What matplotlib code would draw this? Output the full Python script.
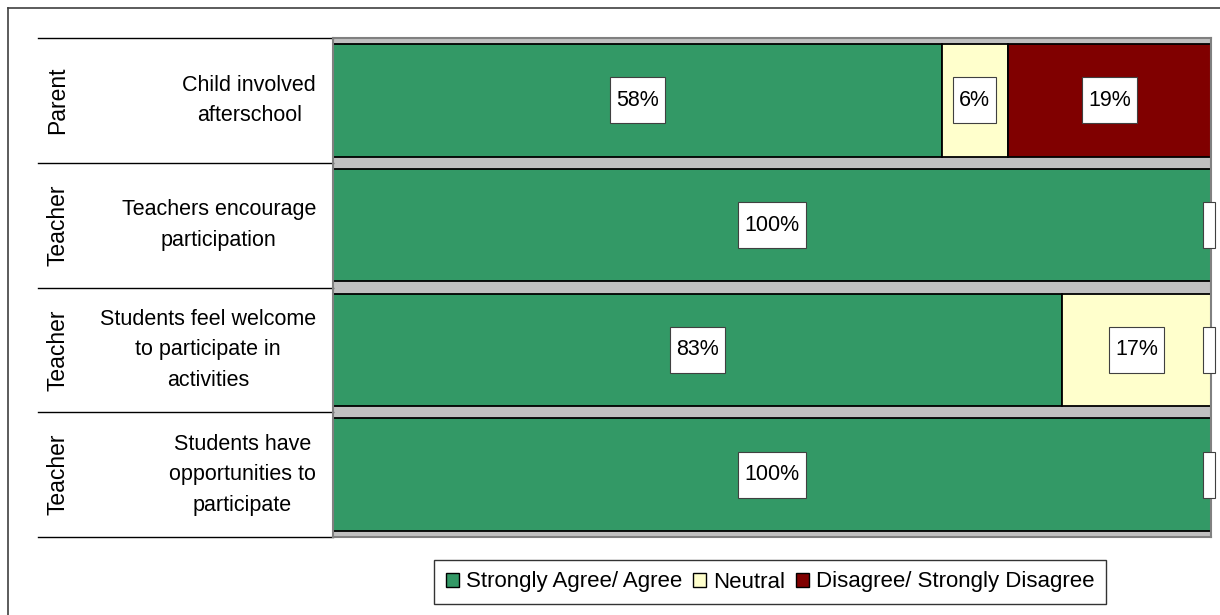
import matplotlib.pyplot as plt
import matplotlib.patches as mpatches
from matplotlib.transforms import IdentityTransform

plt.rcParams['font.family'] = ['Liberation Sans', 'DejaVu Sans']

groups = ["Parent", "Teacher", "Teacher", "Teacher"]
questions = [
    "Child involved\nafterschool",
    "Teachers encourage\nparticipation",
    "Students feel welcome\nto participate in\nactivities",
    "Students have\nopportunities to\nparticipate",
]
series_names = ["Strongly Agree/ Agree", "Neutral", "Disagree/ Strongly Disagree"]
agree = [57.6, 100, 83, 100]
neutral = [6.3, 0, 17, 0]
disagree = [19.2, 0, 0, 0]
colors = ["#339966", "#FFFFCC", "#800000"]

fig = plt.figure(figsize=(12.2, 6.15), dpi=100)
W, H = 1220, 615
ax = fig.add_axes([333 / W, 1 - 537 / H, (1211 - 333) / W, (537 - 38) / H])
ax.set_facecolor("#C0C0C0")

rows = list(range(len(questions)))
series = [agree, neutral, disagree]
totals = [a + n + d for a, n, d in zip(agree, neutral, disagree)]

labels = []
left = [0.0] * len(rows)
for vals, col in zip(series, colors):
    frac = [v / t for v, t in zip(vals, totals)]
    ax.barh(rows, frac, left=left, height=0.9, color=col,
            edgecolor="black", linewidth=1.3, zorder=2)
    for r, v, f, l in zip(rows, vals, frac, left):
        if v == 0 and col == colors[1] and disagree[r] == 0:
            continue  # one empty box per bar end is enough
        txt = f"{v:.0f}%" if v > 0 else ""
        t = ax.text(l + f / 2, r, txt, ha="center", va="center",
                    fontsize=15.5, zorder=5, clip_on=False)
        labels.append((t, l + f / 2, r))
    left = [l + f for l, f in zip(left, frac)]

ax.set_xlim(0, 1)
ax.set_ylim(3.5, -0.5)
ax.set_xticks([])
ax.set_yticks([])
for s in ax.spines.values():
    s.set_color("#808080")
    s.set_linewidth(1.5)

ytr = ax.get_yaxis_transform()
x_left = (38 - 333) / 878
for yb in [-0.5, 0.5, 1.5, 2.5, 3.5]:
    ax.plot([x_left, 0], [yb, yb], color="black", linewidth=1,
            transform=ytr, clip_on=False)

for r, (g, q) in enumerate(zip(groups, questions)):
    ax.text((58 - 333) / 878, r, g, rotation=90, ha="center", va="center",
            fontsize=16.5, transform=ytr)
    ax.text((316 - 333) / 878, r, q, ha="right", va="center",
            multialignment="center", fontsize=15.5, linespacing=1.6,
            transform=ytr)

# white label boxes around the value labels
fig.canvas.draw()
renderer = fig.canvas.get_renderer()
for t, x, y in labels:
    cx, cy = ax.transData.transform((x, y))
    w = t.get_window_extent(renderer).width if t.get_text() else 0
    w += 12
    h = 46
    ax.add_patch(mpatches.Rectangle((cx - w / 2 - 2 * (not t.get_text()), cy - h / 2), w, h,
                                    transform=IdentityTransform(),
                                    facecolor="white", edgecolor="#404040",
                                    linewidth=0.8, zorder=4, clip_on=False))

handles = [mpatches.Patch(facecolor=c, edgecolor="black", label=n)
           for c, n in zip(colors, series_names)]
leg = fig.legend(handles=handles, loc="center", bbox_to_anchor=(770 / W, 1 - 582 / H),
                 ncol=3, fontsize=16, frameon=True, fancybox=False,
                 edgecolor="black", handlelength=0.6, handleheight=0.6,
                 handletextpad=0.3, columnspacing=0.5, borderpad=0.5,
                 borderaxespad=0)
leg.get_frame().set_linewidth(1)

# outer chart frame
fig.add_artist(plt.Line2D([8 / W, 8 / W], [0, 1 - 8 / H], color="#404040", linewidth=1.2))
fig.add_artist(plt.Line2D([8 / W, 1], [1 - 8 / H, 1 - 8 / H], color="#404040", linewidth=1.2))

fig.savefig("out.png", dpi=100)
